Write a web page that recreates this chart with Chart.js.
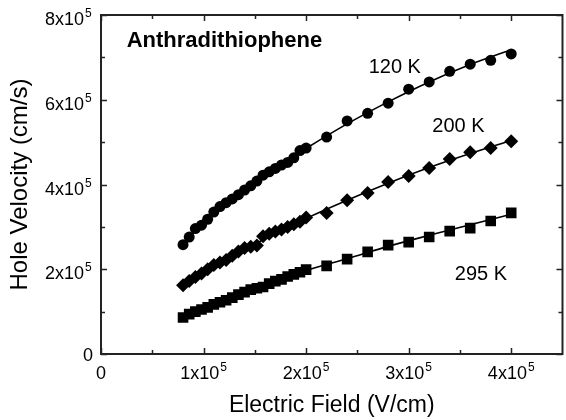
<!DOCTYPE html>
<html>
<head>
<meta charset="utf-8">
<script src="https://cdn.jsdelivr.net/npm/chart.js@4/dist/chart.umd.min.js"></script>
<style>
  html, body { margin: 0; padding: 0; background: #fff; overflow: hidden; }
  #wrap { width: 570px; height: 420px; }
</style>
</head>
<body>
<div id="wrap"><canvas id="chart" width="570" height="420"></canvas></div>
<script>
// electric field, units of 1e5 V/cm
const fields = [0.80, 0.86, 0.92, 0.98, 1.04, 1.10, 1.16, 1.22, 1.28, 1.34, 1.40, 1.46, 1.52, 1.58, 1.64,
  1.70, 1.76, 1.82, 1.88, 1.94, 2.00, 2.2, 2.4, 2.6, 2.8, 3.0, 3.2, 3.4, 3.6, 3.8, 4.0];

// hole velocity, units of 1e5 cm/s
const v120 = [2.58, 2.76, 2.96, 3.04, 3.18, 3.35, 3.48, 3.57, 3.66, 3.76, 3.87, 3.97, 4.08, 4.22, 4.30,
  4.38, 4.46, 4.52, 4.63, 4.80, 4.86, 5.12, 5.50, 5.68, 5.92, 6.25, 6.42, 6.67, 6.84, 6.93, 7.08];
const v200 = [1.62, 1.72, 1.82, 1.90, 2.00, 2.10, 2.16, 2.22, 2.32, 2.42, 2.50, 2.53, 2.56, 2.78, 2.84,
  2.89, 2.94, 3.00, 3.06, 3.12, 3.22, 3.33, 3.63, 3.80, 4.06, 4.20, 4.39, 4.60, 4.76, 4.86, 5.02];
const v295 = [0.86, 0.94, 1.00, 1.05, 1.10, 1.17, 1.22, 1.27, 1.33, 1.40, 1.46, 1.52, 1.55, 1.58, 1.66,
  1.72, 1.76, 1.83, 1.88, 1.93, 1.99, 2.08, 2.24, 2.41, 2.57, 2.64, 2.76, 2.90, 2.97, 3.14, 3.33];

// fitted curves
const fitFields = [0.8, 1.2, 1.6, 2.0, 2.4, 2.8, 3.2, 3.6, 4.0];
const fit120 = [2.62, 3.55, 4.22, 4.85, 5.43, 5.95, 6.42, 6.83, 7.18];
const fit200 = [1.62, 2.20, 2.72, 3.20, 3.63, 4.03, 4.40, 4.73, 5.04];
const fit295 = [0.88, 1.28, 1.62, 1.97, 2.25, 2.54, 2.80, 3.05, 3.30];

const xTicks = [0, 1, 2, 3, 4];
const xMinorTicks = [0.5, 1.5, 2.5, 3.5];
const xTickLabels = [['0', ''], ['1x10', '5'], ['2x10', '5'], ['3x10', '5'], ['4x10', '5']];
const yTicks = [0, 2, 4, 6, 8];
const yMinorTicks = [1, 3, 5, 7];
const yTickLabels = [['0', ''], ['2x10', '5'], ['4x10', '5'], ['6x10', '5'], ['8x10', '5']];

// text placed in data coordinates [x, y(baseline)]
const notes = [
  { text: 'Anthradithiophene', x: 0.25, y: 7.24, bold: true },
  { text: '120 K', x: 2.61, y: 6.63 },
  { text: '200 K', x: 3.23, y: 5.24 },
  { text: '295 K', x: 3.45, y: 1.75 }
];

const FONT = '"Liberation Sans", Arial, sans-serif';

function pts(xs, ys) {
  return xs.map((x, i) => ({ x: x, y: ys[i] }));
}

function fitSet(ys) {
  return {
    data: pts(fitFields, ys),
    showLine: true,
    borderColor: '#000',
    borderWidth: 1.6,
    pointRadius: 0,
    cubicInterpolationMode: 'monotone',
    fill: false
  };
}

function markSet(ys, style, r) {
  return {
    data: pts(fields, ys),
    showLine: false,
    pointStyle: style,
    pointRadius: r,
    pointBackgroundColor: '#000',
    pointBorderColor: '#000',
    pointBorderWidth: 0
  };
}

function supText(ctx, base, sup, x, y, supY, align) {
  ctx.font = '18px ' + FONT;
  const wb = ctx.measureText(base).width;
  ctx.font = '12px ' + FONT;
  const ws = sup ? ctx.measureText(sup).width + 1 : 0;
  let left = x;
  if (align === 'right') left = x - wb;
  if (align === 'center') left = x - (wb + ws) / 2;
  ctx.textAlign = 'left';
  ctx.font = '18px ' + FONT;
  ctx.fillText(base, left, y);
  if (sup) {
    ctx.font = '12px ' + FONT;
    ctx.fillText(sup, left + wb + 1, supY);
  }
}

const framePlugin = {
  id: 'frame',
  afterDraw(chart) {
    const { ctx, chartArea: a, scales: { x, y } } = chart;
    ctx.save();
    ctx.strokeStyle = '#222';
    ctx.lineWidth = 2;
    ctx.strokeRect(a.left, a.top, a.right - a.left, a.bottom - a.top);

    ctx.lineWidth = 1.5;
    ctx.beginPath();
    const xt = (v, len) => {
      const px = Math.round(x.getPixelForValue(v)) + 0.5;
      ctx.moveTo(px, a.bottom); ctx.lineTo(px, a.bottom - len);
      ctx.moveTo(px, a.top); ctx.lineTo(px, a.top + len);
    };
    const yt = (v, len) => {
      const py = Math.round(y.getPixelForValue(v)) + 0.5;
      ctx.moveTo(a.left, py); ctx.lineTo(a.left + len, py);
      ctx.moveTo(a.right, py); ctx.lineTo(a.right - len, py);
    };
    xTicks.forEach(v => xt(v, 6));
    xMinorTicks.forEach(v => xt(v, 4));
    yTicks.forEach(v => yt(v, 6));
    yMinorTicks.forEach(v => yt(v, 4));
    ctx.stroke();

    ctx.fillStyle = '#000';
    ctx.textBaseline = 'alphabetic';
    xTicks.forEach((v, i) => {
      const px = x.getPixelForValue(v);
      const [b, s] = xTickLabels[i];
      supText(ctx, b, s, px, a.bottom + 25, a.bottom + 17, 'center');
    });
    yTicks.forEach((v, i) => {
      const py = y.getPixelForValue(v);
      const [b, s] = yTickLabels[i];
      if (s) supText(ctx, b, s, a.left - 17, py + 10, py + 2, 'right');
      else supText(ctx, b, s, a.left - 8, py + 7, py, 'right');
    });

    // axis titles
    ctx.font = '23px ' + FONT;
    ctx.textAlign = 'center';
    ctx.fillText('Electric Field (V/cm)', (a.left + a.right) / 2, 412);
    ctx.save();
    ctx.translate(27, (a.top + a.bottom) / 2);
    ctx.rotate(-Math.PI / 2);
    ctx.font = '24px ' + FONT;
    ctx.fillText('Hole Velocity (cm/s)', 0, 0);
    ctx.restore();

    ctx.textAlign = 'left';
    notes.forEach(n => {
      ctx.font = (n.bold ? 'bold 22px ' : '20px ') + FONT;
      ctx.fillText(n.text, x.getPixelForValue(n.x), y.getPixelForValue(n.y));
    });
    ctx.restore();
  }
};

new Chart(document.getElementById('chart'), {
  type: 'scatter',
  data: {
    datasets: [
      fitSet(fit120), fitSet(fit200), fitSet(fit295),
      markSet(v120, 'circle', 5.5),
      markSet(v200, 'rectRot', 7),
      markSet(v295, 'rect', 7.5)
    ]
  },
  options: {
    responsive: false,
    animation: false,
    layout: { padding: { left: 101, top: 15, right: 1, bottom: 66 } },
    plugins: { legend: { display: false }, tooltip: { enabled: false } },
    scales: {
      x: { type: 'linear', min: 0, max: 4.5, display: false },
      y: { type: 'linear', min: 0, max: 8, display: false }
    }
  },
  plugins: [framePlugin]
});
</script>
</body>
</html>
